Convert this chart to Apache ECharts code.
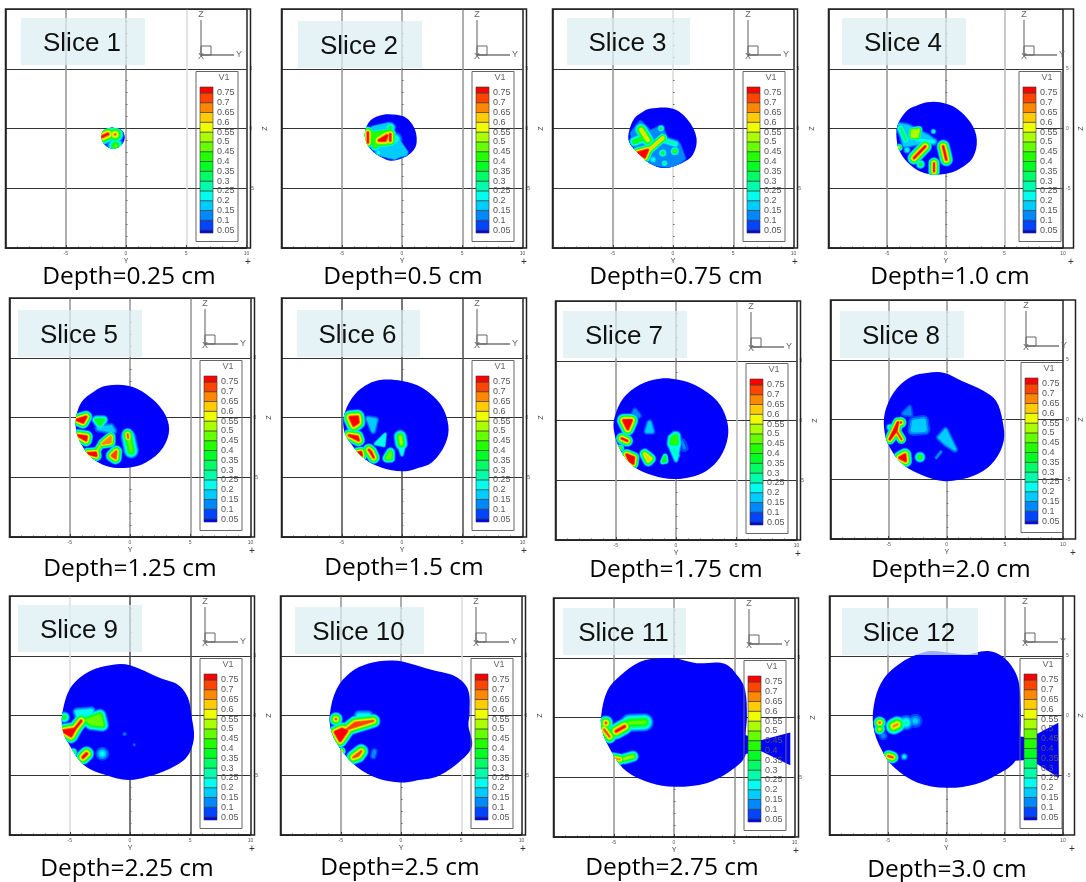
<!DOCTYPE html>
<html><head><meta charset="utf-8">
<style>html,body{margin:0;padding:0;background:#fff}#c{width:1086px;height:882px;filter:blur(0.5px)}</style>
<script src="https://cdn.jsdelivr.net/npm/echarts@6/dist/echarts.min.js"></script>
</head><body><div id="c"></div>
<script>
// ---------- values (Y, Z in cm; V1 level) ----------
const sliceNames = ['Slice 1','Slice 2','Slice 3','Slice 4','Slice 5','Slice 6','Slice 7','Slice 8','Slice 9','Slice 10','Slice 11','Slice 12'];
const depthLabels = ['Depth=0.25 cm','Depth=0.5 cm','Depth=0.75 cm','Depth=1.0 cm','Depth=1.25 cm','Depth=1.5 cm','Depth=1.75 cm','Depth=2.0 cm','Depth=2.25 cm','Depth=2.5 cm','Depth=2.75 cm','Depth=3.0 cm'];
const legendLevels = [0.05,0.1,0.15,0.2,0.25,0.3,0.35,0.4,0.45,0.5,0.55,0.6,0.65,0.7,0.75];
const bandColors = ['#0000ff','#0044ff','#0088ff','#00ccff','#00ffee','#00ffaa','#00ff66','#00ff22','#22ff00','#66ff00','#aaff00','#eeff00','#ffcc00','#ff8800','#ff4400','#ff0000'];

const outline1 = [[-1,.05],[-.33,-.17],[-.1,-.8],[-.4,-1.4],[-1,-1.67],[-1.6,-1.5],[-2,-.95],[-2,-.4],[-1.65,-.05]];
const outline2 = [[-1.1,1.2],[.15,1],[.85,.35],[1.2,-.6],[1.1,-1.6],[.4,-2.3],[-.85,-2.7],[-1.7,-2.4],[-2.5,-1.85],[-3,-1.05],[-3.05,-.2],[-2.65,.65],[-1.95,1.05]];
const outline3 = [[-1.95,1.65],[0,1.65],[1.25,.7],[1.95,-.8],[1.65,-2.2],[.7,-2.9],[-.7,-3.3],[-1.95,-2.9],[-2.9,-2.05],[-3.65,-1.1],[-3.65,-.25],[-3.2,.85],[-2.5,1.4]];
const outline4 = [[-1.6,2.2],[-.5,2.2],[.9,1.7],[2.15,.45],[2.65,-.95],[2.3,-2.45],[1.05,-3.45],[-.1,-3.8],[-1.6,-3.78],[-2.7,-3.3],[-3.7,-2.3],[-4.15,-1.2],[-4.1,.3],[-3.25,1.55],[-2.4,1.95]];
const outline5 = [[-1.97,2.65],[-.17,2.65],[1.35,1.95],[2.75,.55],[3.25,-.97],[2.75,-2.5],[1.35,-3.75],[-.17,-4.2],[-1.97,-4.05],[-3.35,-3.2],[-4.3,-1.67],[-4.5,-.28],[-4.05,1.25],[-2.95,2.2]];
const outline6 = [[-1.67,3.15],[0,3.05],[1.67,2.5],[3.2,1.1],[3.85,-.7],[3.6,-2.2],[2.5,-3.75],[1.1,-4.3],[0,-4.5],[-1.67,-4.2],[-3.05,-3.5],[-4.3,-2.1],[-4.85,-.85],[-4.7,.55],[-3.9,1.95],[-2.8,2.8]];
const outline7 = [[-1.33,3.5],[.2,3.4],[1.7,2.9],[3.4,1.65],[4.2,.1],[4.3,-1.4],[3.65,-3.1],[2.55,-4.2],[1.15,-4.75],[-.2,-4.9],[-1.9,-4.6],[-3.55,-3.8],[-4.65,-2.4],[-5.15,-.85],[-5.1,.25],[-4.35,1.9],[-3,3]];
const outline8 = [[-1.7,3.9],[-.2,3.9],[1.35,3.2],[3.15,2.4],[4.25,1.55],[4.8,-.1],[4.9,-1.8],[4.1,-3.45],[2.7,-4.55],[1.05,-5.05],[-.35,-5.15],[-2,-4.7],[-3.65,-3.85],[-4.9,-2.35],[-5.4,-.65],[-5.2,1],[-4.25,2.65],[-3,3.6]];
const outline9 = [[-1.4,4.25],[0,4.2],[2.45,3.15],[4,2.55],[4.8,1.5],[5.1,0],[5.3,-1.95],[4.7,-3.5],[3.3,-4.45],[1.35,-5.15],[-.15,-5.4],[-1.95,-5],[-3.75,-4.2],[-5,-2.5],[-5.6,-1.15],[-5.55,.55],[-4.85,2.45],[-3.35,3.7]];
const outline10 = [[-.9,4.6],[.2,4.5],[2.6,3.8],[4.55,3.25],[5.55,2.2],[5.7,.25],[5.6,-.85],[5.9,-2.5],[5.1,-3.65],[3.15,-5.05],[1.2,-5.45],[-.05,-5.6],[-1.85,-5.3],[-3.65,-4.3],[-4.9,-2.95],[-5.75,-1.4],[-5.9,.1],[-5.35,2.2],[-4.2,3.6],[-2.7,4.35]];
const outline11 = [[-1.2,4.95],[.05,4.95],[1.85,4.55],[4.2,4.5],[5.35,3.4],[5.9,2.3],[6.05,.1],[5.95,-1.3],[5.9,-3.25],[4.65,-4.5],[2.7,-5.5],[.05,-5.8],[-2,-5.45],[-3.95,-4.5],[-5.05,-3.1],[-5.9,-1.3],[-6.05,.1],[-5.5,2.3],[-4.4,3.55],[-2.85,4.65]];
const outline12 = [[-1.25,5.4],[.55,5.2],[1.65,5.1],[3.6,5.4],[5,4.8],[5.95,3.55],[6.3,2.15],[6.35,-1.7],[5.9,-3.8],[4.45,-4.9],[2.5,-5.75],[0,-6.05],[-2.5,-5.6],[-4.45,-4.35],[-5.55,-2.85],[-6.25,-.9],[-6.1,1.35],[-5.3,3.15],[-3.9,4.4],[-2.5,5.1]];
const tail11 = [[5.4,-1.3],[6.3,-1.6],[7.2,-1.9],[9.65,-1.25],[9.65,-4],[7.2,-2.8],[6.3,-2.95],[5.4,-3.25]];
const tail12 = [[5.6,-1.7],[7.2,-1.85],[9.6,-.6],[9.65,-5.2],[7.2,-3.7],[5.6,-3.8]];

// each hot spot: [peak V1, reach of its contours in cm, ridge points]
const hot1 = [[.2,.7,[[-1.2,-.8]]],[.78,.42,[[-2,-.7],[-1.5,-.47]]],[.72,.45,[[-.9,-.5]]],[.5,.45,[[-.87,-1.45]]]];
const hot2 = [[.2,.1,[[-2.9,-.3],[-2.4,.1],[-1.1,.4],[-.4,-.8],[.4,-2],[-.6,-2.5],[-1.8,-2.2],[-2.7,-1.3]]],[.45,.15,[[-2.6,-.4],[-1,-.2],[-.9,-1.2],[-2.3,-1.4]]],[.3,.4,[[-.55,-.9]]],[.78,.4,[[-1.9,-1],[-1.25,-.6],[-1.4,-1]]],[.78,.3,[[-.97,-.47],[-.97,-1.03]]],[.78,.3,[[-2.83,-.33],[-2.83,-1.17]]],[.5,.3,[[-2.2,-1.45]]],[.4,.3,[[-.97,.08]]],[.2,.2,[[-1.1,-1.45],[-.3,-1.6],[.28,-2.15],[-1.1,-2.3]]],[.25,.3,[[-1.95,-2]]]];
const hot3 = [[.15,.15,[[-3.4,-.4],[-2.7,.5],[-1.9,-.3],[-1,.1],[-.5,-.9],[.5,-1.4],[.9,-2.5],[0,-3.2],[-1.6,-3],[-3,-2]]],[.8,.3,[[-3,-2.05],[-2.1,-1.8],[-2.35,-2.4]]],[.65,.25,[[-2.1,-1.9],[-.85,-.8]]],[.62,.35,[[-2.65,-.1],[-2.1,-.95]]],[.45,.3,[[-3.2,-1.1],[-2.2,-.7]]],[.42,.25,[[-.85,-2.05]]],[.35,.2,[[-.7,-2.9]]],[.5,.25,[[.15,-1.9]]],[.25,.3,[[-1.65,-2.6]]],[.4,.2,[[-1,0]]],[.3,.25,[[-1.1,-.9],[.2,-1.3]]]];
const hot4 = [[.2,.2,[[-4,.3],[-3.3,.2],[-1.5,-.7],[-1,-1.1],[-2.3,-1.2],[-3.5,-1.4]]],[.78,.35,[[-2.7,-2.47],[-1.75,-1.5]]],[.78,.35,[[-.22,-1.5],[.05,-2.6]]],[.76,.3,[[-1,-2.9],[-1,-3.6]]],[.55,.2,[[-2.9,-.2],[-2.3,-.1],[-2.4,-.7],[-2.9,-.7]]],[.35,.25,[[-3.85,0],[-3.4,-.95]]],[.45,.25,[[-2.15,-3]]],[.6,.2,[[-4,-1.6]]],[.3,.15,[[-1.05,-.25]]],[.25,.25,[[-2.45,-.95],[-1.05,-1.1]]],[.3,.2,[[-3.3,-1.8]]]];
const hot5 = [[.8,.32,[[-4.4,-.2],[-3.65,.05],[-3.9,-.4]]],[.78,.32,[[-4.35,-1.5],[-3.65,-1.9],[-3.6,-1.6]]],[.8,.28,[[-3.55,-3],[-2.8,-3.2],[-2.85,-2.95]]],[.55,.2,[[-2.8,-2.9],[-2.5,-2.4]]],[.7,.25,[[-2.3,-2.2],[-1.6,-1.6],[-1.6,-2.1]]],[.75,.32,[[-1.2,-3.4],[-1.15,-2.85],[-1.5,-3.2]]],[.72,.3,[[-.2,-1.4],[-.15,-1.7]]],[.5,.4,[[-.15,-1.6],[.1,-2.8]]],[.4,.25,[[-2.8,-.2],[-2.2,-.2],[-2.5,-.6]]],[.2,.25,[[-2.6,-.9],[-1.4,-1.1],[-1.6,-.8]]]];
const hot6 = [[.8,.38,[[-4.3,0],[-3.7,.05],[-3.65,-.4],[-4,-.65]]],[.78,.32,[[-4.4,-1.5],[-3.6,-1.9],[-3.7,-1.6]]],[.8,.28,[[-3.9,-3],[-3.35,-3.2],[-3.4,-2.9]]],[.76,.32,[[-2.75,-2.7],[-2.35,-3.35],[-2.55,-2.9]]],[.5,.25,[[-1.25,-3.4],[-.95,-2.9],[-.95,-3.4]]],[.25,.12,[[-.15,-1.35],[.2,-2.2],[0,-3.1],[-.3,-2.2]]],[.55,.35,[[-.15,-1.6],[-.05,-2.2]]],[.25,.1,[[-1.4,-1.4],[-2.2,-2.2],[-1.5,-2.35]]],[.2,.2,[[-2.8,-.1],[-2.2,-.2],[-2.4,-1.1]]]];
const hot7 = [[.8,.35,[[-4.35,0],[-3.7,0],[-4,-.7]]],[.78,.3,[[-4.5,-1.5],[-4.05,-1.7]]],[.8,.28,[[-4.1,-2.85],[-3.5,-3.1],[-3.55,-3.6],[-3.85,-3.4]]],[.62,.28,[[-2.6,-2.8],[-2.1,-3.2],[-2.3,-3.4]]],[.4,.15,[[-.9,-3],[-.85,-3.4],[-1.1,-3.45]]],[.25,.15,[[-.15,-1.1],[.25,-2],[0,-3.3],[-.55,-2]]],[.45,.28,[[-.3,-1.5],[0,-1.3],[.05,-1.9],[-.35,-1.9]]],[.3,.2,[[-.2,-2.4],[.05,-2.9]]],[.12,.3,[[.5,-1.8],[.7,-2.3]]],[.5,.2,[[-4.6,-2.3]]],[.2,.2,[[-2.2,-.2],[-2.4,-.9],[-2,-.9]]],[.15,.2,[[-3.4,.8],[-3.1,.4],[-3.6,.3]]]];
const hot8 = [[.8,.28,[[-4.2,-.25],[-4.35,-.95],[-4.9,-1.65]]],[.75,.25,[[-4.35,-.95],[-3.9,-1.65]]],[.78,.3,[[-3.95,-.25]]],[.8,.35,[[-4.05,-3.2],[-3.6,-2.95],[-3.55,-3.45]]],[.5,.3,[[-2.3,-3.15]]],[.2,.35,[[-2.8,-.2],[-2,-.1],[-1.9,-.85],[-2.9,-.9]]],[.12,.2,[[-3.7,.5],[-3.2,1],[-3.1,.4]]],[.18,.2,[[-.65,-1.5],[-.1,-.9],[.25,-1.6],[.7,-2.5],[-.1,-2]]],[.35,.2,[[-4.9,-.65]]],[.15,.1,[[-.9,-3.2],[-.5,-2.7]]]];
const hot9 = [[.8,.38,[[-5.55,-1.3],[-4.9,-1.7],[-4.6,-1.15]]],[.78,.36,[[-4.6,-1.15],[-4.05,-.45]]],[.5,.35,[[-3.6,-.4],[-2.5,0],[-2.3,-.8],[-3.2,-.7]]],[.45,.3,[[-5.45,-.15]]],[.8,.38,[[-3.9,-3.5],[-3.6,-3.2]]],[.5,.25,[[-4.75,-3.1]]],[.25,.4,[[-2.3,-3.2]]],[.25,.25,[[-4.4,.3],[-3.2,.4],[-3.4,.1],[-4.3,0]]],[.15,.12,[[-.45,-1.55]]],[.12,.1,[[.35,-2.45]]]];
const hot10 = [[.8,.36,[[-5.45,-1.4],[-4.9,-1.15],[-4.5,-1.3],[-5.05,-2.1]]],[.72,.36,[[-4.5,-1.15],[-3.8,-.6],[-2.3,-.45]]],[.75,.35,[[-5.4,-.3]]],[.7,.22,[[-4.95,-3]]],[.72,.38,[[-3.95,-3.5],[-3.55,-3.35],[-3.3,-3]]],[.15,.2,[[-2.2,-3],[-2.3,-3.4]]],[.25,.3,[[-3.5,0],[-2.7,0]]]];
const hot11 = [[.75,.38,[[-5.65,-.45]]],[.72,.36,[[-5.8,-1],[-5.35,-1.6]]],[.78,.42,[[-4.8,-1.15],[-4.1,-.75]]],[.5,.48,[[-3.7,-.45],[-2.45,-.4]]],[.7,.3,[[-5.1,-3.4],[-4.5,-3.5]]],[.55,.3,[[-4.1,-3.45],[-3.4,-3.25]]]];
const hot12 = [[.75,.33,[[-5.7,-.6]]],[.6,.3,[[-5.7,-1.15]]],[.7,.45,[[-4.5,-.9],[-4.2,-.75]]],[.3,.45,[[-3.45,-.6]]],[.2,.45,[[-2.65,-.45]]],[.15,.3,[[-5.4,-1.7]]],[.75,.32,[[-4.95,-3.4],[-4.6,-3.5]]],[.25,.2,[[-3.6,-3.45]]]];

const outlines = [outline1,outline2,outline3,outline4,outline5,outline6,outline7,outline8,outline9,outline10,outline11,outline12];
const tails = [null,null,null,null,null,null,null,null,null,null,tail11,tail12];
const hots = [hot1,hot2,hot3,hot4,hot5,hot6,hot7,hot8,hot9,hot10,hot11,hot12];

// ---------- layout (pixels) ----------
const originX = [126,402,673,949,130,402,676,951,130,401,674,950];
const originY = [129,129,129,129,418,418,421,420,716,716,718,716];
const boxLeft = [21,298,567,842,18,297,563,840,18,295,563,842];
const boxTop = [18,21,18,18,310,310,311,311,605,607,608,608];
const boxWidth = [124,124,123,124,124,123,124,124,124,129,123,136];
const depthX = [129,403,676,950,130,404,676,951,127,400,672,947];
const depthY = [277,277,277,277,569,568,570,570,869,868,868,870];
const G='#999',L='#ddd',M='#bbb',K='#555';
const vGrid = [[G,G,L],[G,G,G],[G,L,G],[G,G,M],[G,G,G],[K,K,K],[G,G,M],[G,G,M],[L,K,K],[G,G,L],[G,G,G],[G,G,G]];

const bandLows = [0.035].concat(legendLevels);
const bandHighs = legendLevels.concat([0.78]);
const contourGrowth = 1.7;

function bandIndexOf(v){let n=0;for(let i=1;i<bandLows.length;i++){if(bandLows[i]<v)n=i;}return n;}

function sliceRenderer(k){
  return function(params,api){
    const band = api.value(0);
    const toPx = p=>api.coord(p);
    const unit = api.size([1,1])[0];
    const outlinePx = outlines[k].map(toPx);
    const color = bandColors[band];
    if(band===0){
      const body={type:'polygon',shape:{points:outlinePx,smooth:0.35},style:{fill:color}};
      if(!tails[k]) return body;
      return {type:'group',children:[body,{type:'polygon',shape:{points:tails[k].map(toPx)},style:{fill:color}}]};
    }
    const clip = {type:'polygon',shape:{points:outlinePx,smooth:0.35}};
    const kids=[];
    hots[k].forEach(h=>{
      const peak=h[0],reach=h[1],pts=h[2];
      if(bandIndexOf(peak)<band) return;
      const w=1+2*reach*unit*contourGrowth*(peak-bandLows[band])/peak;
      const px=pts.map(toPx);
      if(px.length===1){
        kids.push({type:'circle',shape:{cx:px[0][0],cy:px[0][1],r:w/2},style:{fill:color}});
      }else{
        kids.push({type:'polygon',shape:{points:px},style:{fill:color,stroke:color,lineWidth:w,lineJoin:'round',lineCap:'round'}});
      }
    });
    return {type:'group',clipPath:clip,children:kids};
  };
}
function legendRender(params,api){
  const i=api.value(0);
  const a=api.coord([0,bandLows[i]]),b=api.coord([1,bandHighs[i]]);
  return {type:'rect',shape:{x:a[0],y:b[1],width:b[0]-a[0],height:a[1]-b[1]},style:{fill:bandColors[i],stroke:'#333',lineWidth:.6}};
}

const grids=[],xAxes=[],yAxes=[],series=[],graphics=[];
const tickFont={fontSize:5,color:'#555',fontFamily:'Liberation Sans'};
originX.forEach((x0,k)=>{
  const y0=originY[k];
  const left=x0-120.5,top=y0-120;
  grids.push({left:left,top:top,width:241,height:239});
  const v=vGrid[k];
  xAxes.push({gridIndex:2*k,type:'value',min:-10,max:10,interval:5,position:'bottom',
    name:'Y',nameLocation:'middle',nameGap:10,nameTextStyle:{fontSize:7,color:'#444',fontFamily:'Liberation Sans'},
    axisLine:{show:true,onZero:false,lineStyle:{color:'#222',width:1.5}},
    axisTick:{show:true,inside:true,length:3,lineStyle:{color:'#444',width:1}},
    minorTick:{show:true,splitNumber:5,length:1.5,lineStyle:{color:'#666'}},
    splitLine:{show:true,lineStyle:{color:['#222',v[0],v[1],v[2],'#333'],width:1.6}},
    axisLabel:{...tickFont,margin:3,showMinLabel:false,formatter:t=>String(t)}});
  yAxes.push({gridIndex:2*k,type:'value',min:-10,max:10,interval:5,position:'right',
    name:'Z',nameLocation:'middle',nameGap:15,nameTextStyle:{fontSize:7,color:'#444',fontFamily:'Liberation Sans'},
    axisLine:{show:false},
    axisTick:{show:true,length:3,lineStyle:{color:'#444'}},
    minorTick:{show:true,splitNumber:5,length:1.5,lineStyle:{color:'#666'}},
    splitLine:{show:true,lineStyle:{color:'#333',width:1}},
    axisLabel:{...tickFont,margin:3,showMinLabel:false,showMaxLabel:false,formatter:t=>String(t)}});
  series.push({type:'custom',xAxisIndex:2*k,yAxisIndex:2*k,coordinateSystem:'cartesian2d',clip:false,silent:true,z:3,
    renderItem:sliceRenderer(k),encode:{x:1,y:2},data:bandColors.map((c,i)=>[i,0,0])});

  // colour key
  grids.push({left:x0+74,top:y0-42,width:13,height:146});
  xAxes.push({gridIndex:2*k+1,type:'value',min:0,max:1,show:false});
  yAxes.push({gridIndex:2*k+1,type:'value',min:0.035,max:0.78,position:'right',z:7,
    axisLine:{show:false},axisTick:{show:false},splitLine:{show:false},
    axisLabel:{show:true,margin:4,fontSize:9,color:'#555',fontFamily:'Liberation Sans',customValues:legendLevels,formatter:t=>String(t)}});
  series.push({type:'custom',xAxisIndex:2*k+1,yAxisIndex:2*k+1,coordinateSystem:'cartesian2d',clip:false,silent:true,z:6,
    renderItem:legendRender,encode:{x:1,y:0},data:bandColors.map((c,i)=>[i,0.5])});

  // frame, second right edge, key box
  graphics.push({type:'rect',z:4,silent:true,shape:{x:left,y:top,width:245,height:239},style:{fill:'none',stroke:'#222',lineWidth:1.5}});
  graphics.push({type:'rect',z:7,silent:true,shape:{x:x0+70,y:y0-57.5,width:42,height:170},style:{fill:'none',stroke:'#666',lineWidth:1}});
  graphics.push({type:'text',z:7,silent:true,style:{x:x0+98,y:y0-51,text:'V1',fill:'#666',fontSize:9,fontFamily:'Liberation Sans',textAlign:'center',textVerticalAlign:'middle'}});
  // orientation triad
  const ox=x0+75,oy=y0-74;
  graphics.push({type:'line',z:7,silent:true,shape:{x1:ox,y1:oy,x2:ox,y2:oy-35},style:{stroke:'#777',lineWidth:1.2}});
  graphics.push({type:'line',z:7,silent:true,shape:{x1:ox,y1:oy,x2:ox+33,y2:oy},style:{stroke:'#333',lineWidth:1.2}});
  graphics.push({type:'rect',z:7,silent:true,shape:{x:ox,y:oy-9,width:10,height:9},style:{fill:'none',stroke:'#666',lineWidth:1}});
  [['Z',ox,oy-40],['Y',ox+38,oy],['X',ox,oy+2]].forEach(a=>{
    graphics.push({type:'text',z:7,silent:true,style:{x:a[1],y:a[2],text:a[0],fill:'#666',fontSize:9,fontFamily:'Liberation Sans',textAlign:'center',textVerticalAlign:'middle'}});
  });
  graphics.push({type:'text',z:7,silent:true,style:{x:x0+122,y:y0+133,text:'+',fill:'#333',fontSize:10,fontFamily:'Liberation Sans',textAlign:'center',textVerticalAlign:'middle'}});
  // slice tag laid over the plot
  graphics.push({type:'rect',z:8,silent:true,shape:{x:boxLeft[k],y:boxTop[k],width:boxWidth[k],height:47},style:{fill:'rgba(219,238,243,0.73)'}});
  graphics.push({type:'text',z:9,silent:true,style:{x:boxLeft[k]+boxWidth[k]/2-1,y:boxTop[k]+26,text:sliceNames[k],fill:'#111',fontSize:26,fontFamily:'Liberation Sans',textAlign:'center',textVerticalAlign:'middle'}});
  // depth caption
  graphics.push({type:'text',z:9,silent:true,style:{x:depthX[k],y:depthY[k],text:depthLabels[k],fill:'#000',fontSize:24.5,fontFamily:'Open Sans',textAlign:'center',textVerticalAlign:'middle'}});
});

const chart=echarts.init(document.getElementById('c'));
chart.setOption({animation:false,backgroundColor:'#fff',tooltip:{show:false},grid:grids,xAxis:xAxes,yAxis:yAxes,series:series,graphic:{elements:graphics}});
</script></body></html>
